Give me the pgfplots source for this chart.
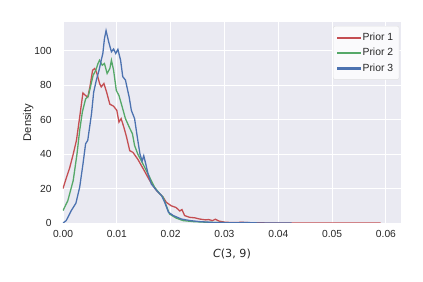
\documentclass[border=0pt]{standalone}
\usepackage{pgfplots}
\pgfplotsset{compat=1.18}
\usepackage{fontspec}
\setmainfont{Liberation Sans}
\newfontfamily\dejavu{DejaVu Sans}
\definecolor{sbred}{HTML}{C44E52}
\definecolor{sbgreen}{HTML}{55A868}
\definecolor{sbblue}{HTML}{4C72B0}
\definecolor{sbbg}{HTML}{EAEAF2}
\definecolor{sbtext}{HTML}{262626}
\begin{document}
\begin{tikzpicture}
\useasboundingbox (-63bp,-59bp) rectangle (360bp,223bp);
\begin{axis}[
  scale only axis,
  width=338bp, height=201bp,
  xmin=0, xmax=0.0628, ymin=0, ymax=116.7,
  axis background/.style={fill=sbbg},
  axis line style={draw=none},
  major tick length=0pt,
  grid=major,
  major grid style={white, line width=0.9pt},
  xtick={0,0.01,0.02,0.03,0.04,0.05,0.06},
  ytick={0,20,40,60,80,100},
  scaled x ticks=false,
  xticklabel style={/pgf/number format/fixed, /pgf/number format/fixed zerofill, /pgf/number format/precision=2},
  /pgf/number format/assume math mode=true,
  tick label style={font=\fontsize{10.3}{12}\selectfont, text=sbtext},
  xticklabel style={yshift=-4bp},
  yticklabel style={xshift=-8bp},
  xlabel={{\dejavu\itshape C}{\dejavu(3, 9)}},
  ylabel={Density},
  label style={font=\fontsize{11.2}{13}\selectfont, text=sbtext},
  xlabel style={yshift=-4bp},
  ylabel style={yshift=-6bp},
  legend cell align=left,
  legend style={at={(0.995,0.98)}, anchor=north east, fill=white!75!sbbg, draw=black!12, rounded corners=2pt, font=\fontsize{10.4}{12}\selectfont\color{sbtext}, row sep=2.2bp, inner xsep=4bp, inner ysep=5bp},
]
\addlegendimage{legend image code/.code={\fill[sbred, sharp corners] (0bp,-0.65pt) rectangle (23bp,0.65pt);}}
\addlegendentry{Prior 1}
\addlegendimage{legend image code/.code={\fill[sbgreen, sharp corners] (0bp,-0.65pt) rectangle (23bp,0.65pt);}}
\addlegendentry{Prior 2}
\addlegendimage{legend image code/.code={\fill[sbblue, sharp corners] (0bp,-0.65pt) rectangle (23bp,0.65pt);}}
\addlegendentry{Prior 3}
\addplot[draw=sbred, line width=1.3pt, forget plot] coordinates {
(0,20) (0.0006,26) (0.00124,32) (0.0019,40) (0.0025,48) (0.0031,61.5) (0.0037,75.5) (0.0042,74) (0.0046,73) (0.005,79)
(0.0055,88.7) (0.0059,89.7) (0.0063,86.8) (0.0068,81) (0.0071,79) (0.0076,81) (0.0081,76) (0.0087,69) (0.0094,67.8) (0.01,65.4)
(0.0104,58.6) (0.0108,60.6) (0.0113,55.7) (0.0118,50) (0.0124,42) (0.013,41) (0.0139,37) (0.0149,31.5) (0.0161,24.7) (0.0174,18.8)
(0.0186,15) (0.0192,12) (0.0201,10) (0.021,9) (0.0217,7) (0.0221,7.8) (0.0226,4.3) (0.0235,3.3) (0.0245,3) (0.0254,2.3)
(0.0265,1.8) (0.027,2) (0.0278,1.4) (0.0283,2.2) (0.029,1.1) (0.03,0.5) (0.031,0.3) (0.0325,0.2) (0.033,0.5) (0.0338,0.3) (0.035,0.1)
(0.038,0.05) (0.045,0.02) (0.059,0.0)
};
\addplot[draw=sbgreen, line width=1.3pt, forget plot] coordinates {
(0,7.2) (0.0009,13) (0.0019,24.7) (0.0026,40) (0.0031,53.8) (0.0036,64.5) (0.0042,72) (0.0047,73.6) (0.0051,79)
(0.0056,85.8) (0.0061,88.7) (0.0065,92.6) (0.0068,94.5) (0.0073,91.6) (0.0077,92.6) (0.0082,86.8) (0.0087,89.7) (0.009,94.5) (0.0094,88.7)
(0.0099,77) (0.0104,74) (0.011,67.4) (0.0116,60.6) (0.0123,55.7) (0.0129,51.8) (0.0133,45) (0.0139,40) (0.0149,34) (0.0158,28.5)
(0.017,20.8) (0.018,16.9) (0.0186,15) (0.0192,10) (0.0198,5.2) (0.021,2.9) (0.0223,1.4) (0.0242,0.8) (0.027,0.4) (0.03,0.2) (0.033,0.05) (0.036,0)
};
\addplot[draw=sbblue, line width=1.3pt, forget plot] coordinates {
(0,0) (0.0006,1.4) (0.0015,7) (0.0024,11.5) (0.0031,20.8) (0.0037,34) (0.0042,46) (0.0046,48) (0.0053,63.5)
(0.0057,76) (0.0062,83) (0.0067,88.7) (0.0071,94.5) (0.0074,98.4) (0.0077,107) (0.008,111.7) (0.0085,105) (0.009,99.4) (0.0094,101)
(0.0098,98.4) (0.0102,100.8) (0.0107,94.5) (0.0111,85) (0.0116,83) (0.0123,73) (0.0127,65.4) (0.0133,60.6) (0.0138,50) (0.0143,40)
(0.0147,36) (0.015,39) (0.0154,34) (0.0158,28.5) (0.0164,22.7) (0.0174,18.8) (0.0183,16) (0.0189,12) (0.0196,6.2) (0.0205,4.3)
(0.022,2.3) (0.0236,1.4) (0.0254,0.8) (0.028,0.3) (0.032,0.1) (0.034,0.3) (0.036,0.05) (0.0425,0)
};
\end{axis}
\end{tikzpicture}
\end{document}
